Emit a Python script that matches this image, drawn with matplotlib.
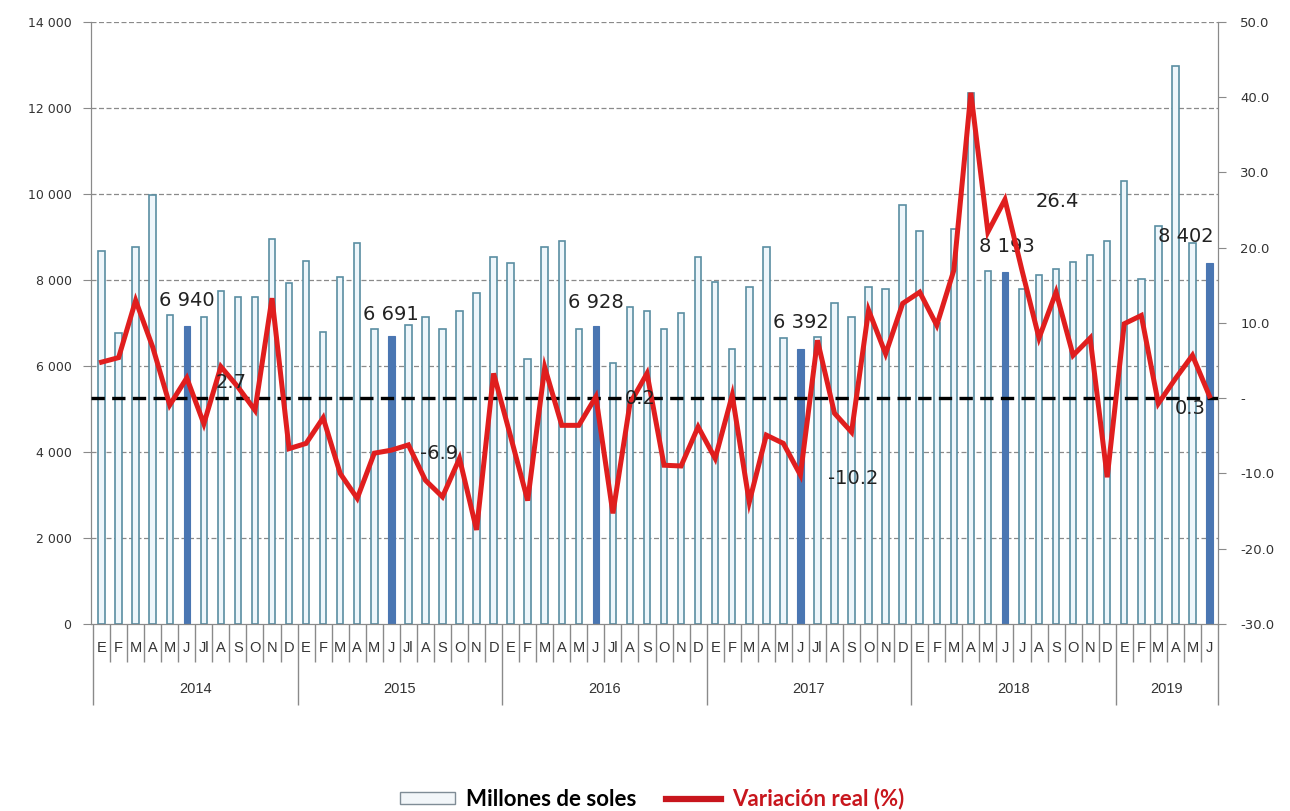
import matplotlib.pyplot as plt
import matplotlib.transforms as mtransforms
from matplotlib.patches import Patch
from matplotlib.lines import Line2D
import numpy as np

# datos mensuales ene-2014 a jun-2019
years = ["2014", "2015", "2016", "2017", "2018", "2019"]
months_per_year = [12, 12, 12, 12, 12, 6]
month_letters = ["E", "F", "M", "A", "M", "J", "Jl", "A", "S", "O", "N", "D"]

ventas = [
    8680, 6770, 8770, 9980, 7190, 6940, 7140, 7740, 7600, 7600, 8950, 7930,
    8440, 6800, 8070, 8860, 6860, 6691, 6950, 7140, 6860, 7280, 7700, 8540,
    8400, 6160, 8770, 8910, 6860, 6928, 6070, 7370, 7280, 6860, 7230, 8540,
    7950, 6390, 7840, 8770, 6660, 6392, 6670, 7460, 7140, 7830, 7790, 9740,
    9140, 7000, 9190, 12350, 8210, 8193, 7800, 8120, 8250, 8430, 8580, 8900,
    10300, 8020, 9250, 12970, 8860, 8402,
]
variacion = [
    4.8, 5.4, 13.0, 6.8, -0.9, 2.7, -3.4, 4.2, 1.5, -1.6, 13.3, -6.7,
    -6.0, -2.6, -10.0, -13.3, -7.3, -6.9, -6.2, -10.9, -13.1, -8.0, -17.5, 3.3,
    -5.1, -13.6, 4.1, -3.6, -3.6, 0.2, -15.3, -0.7, 3.3, -8.9, -9.0, -3.8,
    -8.0, 0.4, -13.8, -4.9, -6.0, -10.2, 7.7, -2.0, -4.5, 11.7, 5.9, 12.6,
    14.1, 9.7, 17.0, 40.6, 22.1, 26.4, 17.0, 8.0, 14.1, 5.7, 8.0, -10.5,
    9.9, 11.0, -0.7, 2.6, 5.7, 0.3,
]

# etiquetas de los meses de junio
junio_idx = [5, 17, 29, 41, 53, 65]
junio_ventas_txt = ["6 940", "6 691", "6 928", "6 392", "8 193", "8 402"]
junio_var_txt = ["2.7", "-6.9", "0.2", "-10.2", "26.4", "0.3"]

n = len(ventas)
x = np.arange(n)
month_labels = []
for ny in months_per_year:
    month_labels += month_letters[:ny]
month_labels[54] = "J"  # en 2018 sale J

fig = plt.figure(figsize=(12.9, 8.11), dpi=100)
ax = fig.add_axes([91/1290, 1-624/811, (1218-91)/1290, (624-22)/811])
ax2 = ax.twinx()

# barras
normal = [i for i in x if i not in junio_idx]
ax.bar(normal, [ventas[i] for i in normal], width=0.38, color="#eef6fb",
       edgecolor="#5a8ea2", linewidth=1.2, zorder=2)
ax.bar(junio_idx, [ventas[i] for i in junio_idx], width=0.38, color="#4a76b2",
       edgecolor="#4a76b2", linewidth=0.8, zorder=2)

ax.set_ylim(0, 14000)
ax.set_xlim(-0.62, n - 0.62)
ax.set_yticks(np.arange(0, 14001, 2000))
ax.set_yticklabels([f"{v:,}".replace(",", " ") for v in range(0, 14001, 2000)])
for v in range(2000, 14001, 2000):
    ax.axhline(v, color="#8a8a8a", lw=0.9, ls=(0, (4, 2)), zorder=1)

# linea de variacion
ax2.plot(x, variacion, color="#e01e1e", lw=3.6, zorder=4, solid_joinstyle="miter")
ax2.axhline(0, color="black", lw=2.4, ls=(0, (4, 2.2)), zorder=3)
ax2.set_ylim(-30, 50)
ax2.set_yticks(np.arange(-30, 51, 10))
ax2.set_yticklabels(["-30.0", "-20.0", "-10.0", "-", "10.0", "20.0", "30.0", "40.0", "50.0"])

ax.set_zorder(1)
ax2.set_zorder(2)
ax2.patch.set_visible(False)

for a in (ax, ax2):
    a.spines["top"].set_visible(False)
    a.spines["left"].set_color("#8a8a8a")
    a.spines["right"].set_color("#8a8a8a")
    a.spines["bottom"].set_color("#8a8a8a")
ax.tick_params(axis="y", length=6, color="#8a8a8a", labelsize=9, labelcolor="#333333", pad=8)
ax2.tick_params(axis="y", length=6, color="#8a8a8a", labelsize=9.5, labelcolor="#333333", pad=10)

# eje x: separadores de meses y anos
bounds = np.arange(-0.5, n, 1.0)
year_bounds = [-0.5] + list(np.cumsum(months_per_year) - 0.5)
ax.set_xticks(year_bounds)
ax.set_xticklabels([])
ax.set_xticks(bounds, minor=True)
ax.tick_params(axis="x", which="major", length=58, color="#8a8a8a", width=1)
ax.tick_params(axis="x", which="minor", length=27, color="#8a8a8a", width=1)
ax2.tick_params(axis="x", which="both", length=0)

trans = mtransforms.blended_transform_factory(ax.transData, ax.transAxes)
for i, lab in enumerate(month_labels):
    ax.text(i, -24/602, lab, transform=trans, ha="center", va="center",
            fontsize=10.5, color="#333333", family="Liberation Sans")
start = 0
for yr, ny in zip(years, months_per_year):
    ax.text(start + ny/2 - 0.5, -65/602, yr, transform=trans, ha="center", va="center",
            fontsize=10.5, color="#333333", family="Liberation Sans")
    start += ny

# etiquetas de junio
ventas_off = [(0, 25), (0, 22), (0, 24), (0, 27), (2, 25), (-24, 26)]
var_off = [(44, -5), (48, -3), (44, -2), (53, -3), (52, -2), (-19, -13)]
for k, i in enumerate(junio_idx):
    ax.annotate(junio_ventas_txt[k], (i, ventas[i]), xytext=ventas_off[k],
                textcoords="offset pixels", ha="center", va="center",
                fontsize=14, color="#222222", zorder=6)
    ax2.annotate(junio_var_txt[k], (i, variacion[i]), xytext=var_off[k],
                 textcoords="offset pixels", ha="center", va="center",
                 fontsize=14, color="#222222", zorder=6)

# leyenda
handles = [Patch(facecolor="#f2f6f9", edgecolor="#7f8c96", linewidth=1),
           Line2D([0], [0], color="#c8161d", lw=4.5)]
leg = fig.legend(handles, ["Millones de soles", "Variación real (%)"],
                 loc="center", bbox_to_anchor=(652/1290, 1-799/811), ncol=2,
                 frameon=False, handlelength=2.5, handleheight=0.45,
                 columnspacing=1.3, handletextpad=0.5,
                 prop={"family": "Lato", "weight": "bold", "size": 16})
leg.get_texts()[1].set_color("#c8161d")

fig.savefig("out.png", dpi=100)
